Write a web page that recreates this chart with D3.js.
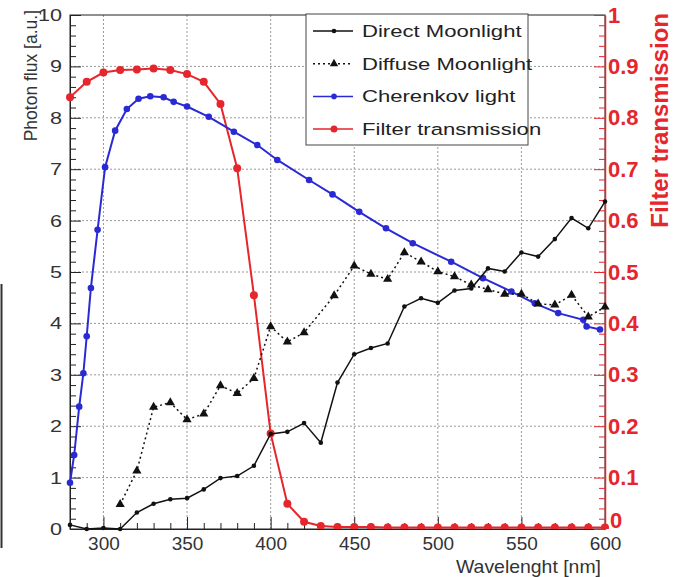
<!DOCTYPE html>
<html>
<head>
<meta charset="utf-8">
<script src="https://cdn.jsdelivr.net/npm/d3@7"></script>
<style>
  html, body { margin: 0; padding: 0; background: #fff; }
  svg { display: block; font-family: "Liberation Sans", Arial, sans-serif; }
</style>
</head>
<body>
<svg id="chart" width="673" height="577"></svg>
<script>
// Wavelength samples (nm) and photon flux [a.u.] for each spectrum
const directNm = [280,290,300,310,320,330,340,350,360,370,380,390,400,410,420,430,440,450,460,470,480,490,500,510,520,530,540,550,560,570,580,590,600];
const directFlux = [0.08,0.0,0.02,0.0,0.32,0.49,0.58,0.60,0.77,0.99,1.03,1.23,1.85,1.89,2.06,1.68,2.85,3.40,3.52,3.61,4.33,4.49,4.40,4.64,4.68,5.07,5.01,5.38,5.30,5.64,6.05,5.85,6.37];

const diffuseNm = [310,320,330,340,350,360,370,380,390,400,410,420,438,450,460,470,480,490,500,510,520,530,540,550,560,570,580,590,600];
const diffuseFlux = [0.48,1.13,2.37,2.46,2.13,2.24,2.79,2.64,2.93,3.94,3.64,3.82,4.54,5.12,4.96,4.86,5.38,5.20,5.01,4.91,4.75,4.66,4.57,4.57,4.38,4.36,4.55,4.13,4.32];

const cherenkovNm = [280,282.5,285.5,288,290,292.5,296.5,301,307,314,321,328,336,342,350,363,378,392,404,423,437,453,469,485,508,527,544,558,572,587,589,597];
const cherenkovFlux = [0.9,1.44,2.38,3.03,3.75,4.69,5.82,7.04,7.75,8.17,8.37,8.42,8.40,8.31,8.22,8.02,7.73,7.47,7.18,6.79,6.51,6.17,5.85,5.56,5.20,4.88,4.62,4.39,4.20,4.07,3.94,3.88];

// Filter transmission (right axis, 0..1)
const filterNm = [280,290,300,310,320,330,340,350,360,370,380,390,400,410,420,430,440,450,460,470,480,490,500,510,520,530,540,550,560,570,580,590,600];
const filterT = [0.84,0.87,0.888,0.893,0.894,0.896,0.893,0.885,0.870,0.827,0.702,0.455,0.186,0.049,0.014,0.006,0.004,0.004,0.004,0.003,0.003,0.003,0.003,0.003,0.003,0.003,0.003,0.003,0.003,0.003,0.003,0.003,0.003];

// Axis ticks
const xMajor = [300,350,400,450,500,550,600];
const xMinor = [280,290,310,320,330,340,360,370,380,390,410,420,430,440,460,470,480,490,510,520,530,540,560,570,580,590];
const yMajor = [0,1,2,3,4,5,6,7,8,9,10];
const tMajor = [0,0.1,0.2,0.3,0.4,0.5,0.6,0.7,0.8,0.9,1];
const tMajorLabels = ["0","0.1","0.2","0.3","0.4","0.5","0.6","0.7","0.8","0.9","1"];

const legendLabels = ["Direct Moonlight","Diffuse Moonlight","Cherenkov light","Filter transmission"];

const BLUE = "#2a2ad4", RED = "#e5262c", BLACK = "#111";

const frame = {left: 70, right: 605, top: 15, bottom: 529};
const svg = d3.select("#chart");

const x = d3.scaleLinear().domain([280, 600]).range([frame.left, frame.right]);
const y = d3.scaleLinear().domain([0, 10]).range([frame.bottom, frame.top]);
const yT = d3.scaleLinear().domain([0, 1]).range([frame.bottom, frame.top]);

// thin rule at the far left edge
svg.append("line").attr("x1", 1.5).attr("x2", 1.5).attr("y1", 284).attr("y2", 548)
  .attr("stroke", "#333").attr("stroke-width", 2);

// grid
const grid = svg.append("g").attr("stroke", "#9a9a9a").attr("stroke-width", 1).attr("stroke-dasharray", "2,2");
grid.selectAll("line.gx").data(xMajor.filter(v => v < 600)).join("line")
  .attr("x1", d => x(d)).attr("x2", d => x(d)).attr("y1", frame.top).attr("y2", frame.bottom);
grid.selectAll("line.gy").data(yMajor.filter(v => v > 0 && v < 10)).join("line")
  .attr("y1", d => y(d)).attr("y2", d => y(d)).attr("x1", frame.left).attr("x2", frame.right);

// frame
svg.append("rect").attr("x", frame.left).attr("y", frame.top)
  .attr("width", frame.right - frame.left).attr("height", frame.bottom - frame.top)
  .attr("fill", "none").attr("stroke", "#222").attr("stroke-width", 1);

// clip at the bottom of the frame
svg.append("clipPath").attr("id", "clipBottom").append("rect")
  .attr("x", 0).attr("y", 0).attr("width", 673).attr("height", frame.bottom);

// bottom axis
const xAxis = svg.append("g").attr("transform", `translate(0,${frame.bottom})`)
  .call(d3.axisBottom(x).tickValues(xMajor).tickSizeInner(-12).tickSizeOuter(0).tickPadding(8).tickFormat(d3.format("d")));
xAxis.select(".domain").attr("stroke", "#222");
xAxis.selectAll(".tick line").attr("stroke", "#222");
xAxis.selectAll("text").attr("font-size", 19).attr("fill", "#333")
  .attr("font-family", "'Liberation Sans', Arial, sans-serif");
svg.append("g").attr("transform", `translate(0,${frame.bottom})`)
  .call(d3.axisBottom(x).tickValues(xMinor).tickSizeInner(-6).tickSizeOuter(0).tickFormat(""))
  .call(g => g.select(".domain").remove())
  .selectAll(".tick line").attr("stroke", "#222");

// left axis
const yMinor = d3.range(0, 10.001, 0.2).filter(v => Math.abs(v - Math.round(v)) > 1e-6);
const yAxis = svg.append("g").attr("transform", `translate(${frame.left},0)`)
  .call(d3.axisLeft(y).tickValues(yMajor).tickSizeInner(-11).tickSizeOuter(0).tickFormat(d3.format("d")));
yAxis.select(".domain").attr("stroke", "#222");
yAxis.selectAll(".tick line").attr("stroke", "#222");
yAxis.selectAll("text").attr("font-size", 17).attr("fill", "#333")
  .attr("font-family", "'Liberation Sans', Arial, sans-serif")
  .attr("x", 0).attr("transform", "translate(-8,0) scale(1.27,1)");
svg.append("g").attr("transform", `translate(${frame.left},0)`)
  .call(d3.axisLeft(y).tickValues(yMinor).tickSizeInner(-6).tickSizeOuter(0).tickFormat(""))
  .call(g => g.select(".domain").remove())
  .selectAll(".tick line").attr("stroke", "#222");

// right axis (filter transmission)
const tMinor = d3.range(0, 1.0001, 0.02).filter(v => Math.abs(v * 10 - Math.round(v * 10)) > 1e-6);
const tAxis = svg.append("g").attr("transform", `translate(${frame.right},0)`)
  .call(d3.axisRight(yT).tickValues(tMajor).tickSizeInner(-11).tickSizeOuter(0).tickPadding(3)
    .tickFormat((d, i) => tMajorLabels[i]));
tAxis.select(".domain").attr("stroke", RED).attr("stroke-width", 1.5);
tAxis.selectAll(".tick line").attr("stroke", RED);
tAxis.selectAll("text").attr("font-size", 22).attr("font-weight", "bold").attr("fill", RED)
  .attr("font-family", "'Liberation Sans', Arial, sans-serif");
// lowest label sits just above the corner so it clears the "600" label
tAxis.selectAll(".tick").filter(d => d === 0).select("text").attr("dy", "-0.05em").attr("x", 5);
svg.append("g").attr("transform", `translate(${frame.right},0)`)
  .call(d3.axisRight(yT).tickValues(tMinor).tickSizeInner(-6).tickSizeOuter(0).tickFormat(""))
  .call(g => g.select(".domain").remove())
  .selectAll(".tick line").attr("stroke", RED);

// axis titles
svg.append("text").attr("transform", "translate(37,10) rotate(-90)")
  .attr("text-anchor", "end").attr("font-size", 17.5).attr("fill", "#333")
  .text("Photon flux [a.u.]");
svg.append("text").attr("transform", "translate(668,13) rotate(-90)")
  .attr("text-anchor", "end").attr("font-size", 24).attr("font-weight", "bold").attr("fill", RED)
  .text("Filter transmission");
svg.append("text").attr("x", 601).attr("y", 573)
  .attr("text-anchor", "end").attr("font-size", 18).attr("fill", "#333")
  .attr("transform", "translate(601,0) scale(1.08,1) translate(-601,0)")
  .text("Wavelenght [nm]");

// series
const series = [
  {nm: filterNm, v: filterT, ys: yT, color: RED, width: 2, dash: null, shape: "circle", r: 4, clip: true},
  {nm: cherenkovNm, v: cherenkovFlux, ys: y, color: BLUE, width: 2, dash: null, shape: "circle", r: 3.3, clip: false},
  {nm: diffuseNm, v: diffuseFlux, ys: y, color: BLACK, width: 1.5, dash: "2,3", shape: "triangle", r: 3.5, clip: false},
  {nm: directNm, v: directFlux, ys: y, color: BLACK, width: 1.5, dash: null, shape: "circle", r: 2.3, clip: false}
];

const plot = svg.append("g");
series.forEach(s => {
  const pts = s.nm.map((n, i) => [n, s.v[i]]);
  const g = plot.append("g");
  if (s.clip) g.attr("clip-path", "url(#clipBottom)");
  g.append("path").datum(pts)
    .attr("fill", "none").attr("stroke", s.color).attr("stroke-width", s.width)
    .attr("stroke-dasharray", s.dash)
    .attr("d", d3.line().x(d => x(d[0])).y(d => s.ys(d[1])));
  if (s.shape === "circle") {
    g.selectAll("circle").data(pts).join("circle")
      .attr("cx", d => x(d[0])).attr("cy", d => s.ys(d[1])).attr("r", s.r).attr("fill", s.color);
  } else {
    const sym = d3.symbol(d3.symbolTriangle).size(s.r * s.r * 3);
    g.selectAll("path.m").data(pts).join("path").attr("class", "m")
      .attr("transform", d => `translate(${x(d[0])},${s.ys(d[1])})`)
      .attr("d", sym).attr("fill", s.color);
  }
});

// legend
const leg = svg.append("g");
leg.append("rect").attr("x", 306).attr("y", 14).attr("width", 222).attr("height", 131)
  .attr("fill", "#fff").attr("stroke", "#444").attr("stroke-width", 1);
const legStyles = [
  {color: BLACK, width: 1.5, dash: null, shape: "circle", r: 2.3},
  {color: BLACK, width: 1.5, dash: "2,3", shape: "triangle", r: 3.2},
  {color: BLUE, width: 1.5, dash: null, shape: "circle", r: 2.8},
  {color: RED, width: 1.5, dash: null, shape: "circle", r: 3.5}
];
legendLabels.forEach((label, i) => {
  const cy = 31 + i * 32.7;
  const st = legStyles[i];
  leg.append("line").attr("x1", 313).attr("x2", 353).attr("y1", cy).attr("y2", cy)
    .attr("stroke", st.color).attr("stroke-width", st.width).attr("stroke-dasharray", st.dash);
  if (st.shape === "circle") {
    leg.append("circle").attr("cx", 334).attr("cy", cy).attr("r", st.r).attr("fill", st.color);
  } else {
    leg.append("path").attr("transform", `translate(334,${cy})`)
      .attr("d", d3.symbol(d3.symbolTriangle).size(st.r * st.r * 3)).attr("fill", st.color);
  }
  leg.append("text").attr("transform", `translate(362,${cy + 6}) scale(1.3,1)`)
    .attr("font-size", 17).attr("fill", "#222").text(label);
});
</script>
</body>
</html>
